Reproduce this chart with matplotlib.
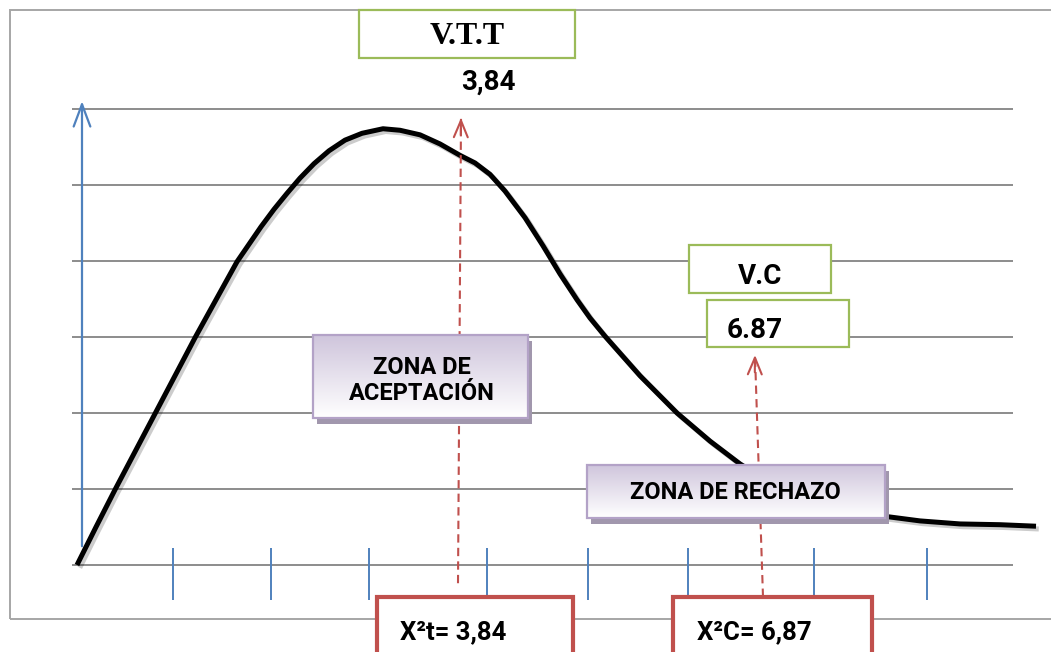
import numpy as np
import matplotlib.pyplot as plt
from matplotlib.patches import Rectangle
from matplotlib.colors import LinearSegmentedColormap
import matplotlib.patheffects as pe

# curve (x in chi-square units, y in grid units)
curve_x = [0.00, 0.19, 0.38, 0.58, 0.78, 0.98, 1.18, 1.39, 1.60, 1.72, 1.84, 1.97, 2.10,
           2.23, 2.37, 2.52, 2.68, 2.85, 3.06, 3.23, 3.43, 3.63, 3.83, 3.98, 4.13, 4.28,
           4.48, 4.66, 4.83, 5.00, 5.13, 5.28, 5.63, 6.00, 6.33, 6.63, 6.93, 7.23, 7.63,
           8.08, 8.43, 8.83, 9.23, 9.59]
curve_y = [0.00, 0.50, 0.99, 1.49, 1.99, 2.49, 2.99, 3.49, 3.99, 4.22, 4.45, 4.68, 4.89,
           5.09, 5.28, 5.45, 5.59, 5.68, 5.74, 5.72, 5.66, 5.54, 5.39, 5.29, 5.14, 4.92,
           4.57, 4.20, 3.83, 3.49, 3.25, 3.01, 2.49, 2.00, 1.63, 1.33, 1.08, 0.89, 0.75,
           0.64, 0.58, 0.54, 0.53, 0.51]
grid_levels = [0, 1, 2, 3, 4, 5, 6]
tick_x = [0.96, 1.94, 2.92, 4.10, 5.11, 6.11, 7.37, 8.50]
chi_t = 3.84
chi_c = 6.87
label_t = "3,84"
label_c = "6.87"

RED = "#C0504D"
BLUE = "#4F81BD"
GREEN = "#9BBB59"
GRAY = "#8C8C8C"
SANS = "Roboto"

fig = plt.figure(figsize=(10.51, 6.52), dpi=100)
ax = fig.add_axes([0, 0, 1, 1])
ax.axis("off")

# outer frame
ax.add_patch(Rectangle((-0.67, -0.71), 11, 8.01, fill=False, ec="#A6A6A6", lw=1.4, zorder=1))

# grid lines
ax.hlines(grid_levels, -0.05, 9.36, color=GRAY, lw=1.4, zorder=1)

# blue ticks and y axis arrow
ax.vlines(tick_x, -0.46, 0.22, color=BLUE, lw=1.4, zorder=2)
ax.annotate("", xy=(0.05, 6.14), xytext=(0.05, 0.21),
            arrowprops=dict(arrowstyle="->,head_length=1.6,head_width=0.6", color=BLUE, lw=1.6),
            zorder=2)

# density curve
ax.plot(curve_x, curve_y, color="black", lw=3.6, solid_capstyle="butt", solid_joinstyle="round",
        zorder=3, path_effects=[pe.SimpleLineShadow(offset=(2, -2), alpha=0.2), pe.Normal()])


def red_arrow(x0, y0, x1, y1):
    ax.plot([x0, x1], [y0, y1 - 0.05], color=RED, lw=1.5, ls=(0, (4, 2.5)), zorder=4)
    ax.annotate("", xy=(x1, y1), xytext=(x1 - 0.002, y1 - 0.3),
                arrowprops=dict(arrowstyle="->,head_length=1.2,head_width=0.5", color=RED, lw=1.5),
                zorder=4)


red_arrow(chi_t - 0.03, -0.24, chi_t, 5.92)
red_arrow(chi_c - 0.01, -0.42, chi_c - 0.09, 2.80)

lav = LinearSegmentedColormap.from_list("lav", ["#FFFFFF", "#CFC5DC"])


def purple_box(x0, y0, x1, y1, text, cx, cy):
    ax.add_patch(Rectangle((x0 + 0.04, y0 - 0.08), x1 - x0, y1 - y0, fc="#A197AD", ec="none",
                           zorder=5))
    box = Rectangle((x0, y0), x1 - x0, y1 - y0, fc="none", ec="#B3A2C7", lw=1.6, zorder=7)
    ax.add_patch(box)
    grad = np.linspace(0, 1, 100).reshape(-1, 1)
    im = ax.imshow(grad, cmap=lav, extent=(x0, x1, y1, y0), aspect="auto", zorder=6,
                   origin="upper")
    im.set_clip_path(Rectangle((x0, y0), x1 - x0, y1 - y0, transform=ax.transData))
    ax.text(cx, cy, text, ha="center", va="center", fontsize=17, fontweight="bold",
            family=SANS, linespacing=1.2, zorder=8)


purple_box(2.36, 1.94, 4.51, 3.03, "ZONA DE\nACEPTACIÓN", 3.45, 2.43)
purple_box(5.10, 0.62, 8.08, 1.32, "ZONA DE RECHAZO", 6.58, 0.95)

# green boxes
ax.add_patch(Rectangle((2.82, 6.67), 2.16, 0.63, fc="white", ec=GREEN, lw=1.6, zorder=7))
ax.text(3.90, 6.95, "V.T.T", ha="center", va="center", fontsize=23, fontweight="bold",
        family="Liberation Serif", zorder=8)
ax.text(4.11, 6.35, label_t, ha="center", va="center", fontsize=20, fontweight="bold",
        family=SANS, zorder=8)

ax.add_patch(Rectangle((6.12, 3.58), 1.42, 0.63, fc="white", ec=GREEN, lw=1.6, zorder=7))
ax.text(6.83, 3.80, "V.C", ha="center", va="center", fontsize=20, fontweight="bold",
        family=SANS, zorder=8)
ax.add_patch(Rectangle((6.30, 2.87), 1.42, 0.62, fc="white", ec=GREEN, lw=1.6, zorder=7))
ax.text(6.50, 3.09, label_c, ha="left", va="center", fontsize=20, fontweight="bold",
        family=SANS, zorder=8)

# red result boxes at the bottom
ax.add_patch(Rectangle((3.00, -1.40), 1.96, 0.98, fc="white", ec=RED, lw=3, zorder=7))
ax.text(3.23, -0.88, "X²t= " + label_t, ha="left", va="center", fontsize=18.5, fontweight="bold",
        family=SANS, zorder=8)
ax.add_patch(Rectangle((5.96, -1.40), 1.99, 0.98, fc="white", ec=RED, lw=3, zorder=7))
ax.text(6.20, -0.88, "X²C= 6,87", ha="left", va="center", fontsize=18.5, fontweight="bold",
        family=SANS, zorder=8)

ax.set_xlim(-0.77, 9.74)
ax.set_ylim(-1.145, 7.434)
fig.savefig("out.png", dpi=100)
